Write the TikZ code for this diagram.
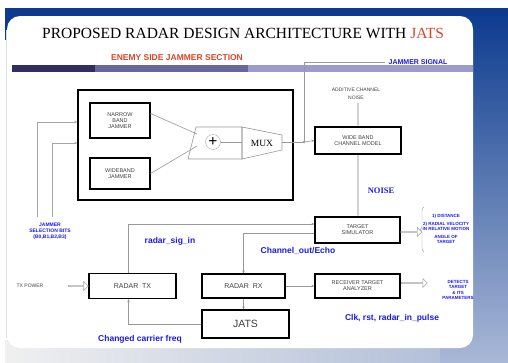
\documentclass[tikz,border=0pt]{standalone}
\usepackage{fontspec}
\setmainfont{Liberation Serif}
\setsansfont{Liberation Sans}
\usetikzlibrary{arrows.meta, positioning, shapes.arrows, decorations.pathreplacing, calc}

\definecolor{slideblue}{HTML}{0B3A8E}
\definecolor{slidelight}{HTML}{A9B8D6}
\definecolor{barA}{HTML}{2E2E62}
\definecolor{barB}{HTML}{6767A0}
\definecolor{barC}{HTML}{9B9BCD}
\definecolor{lblblue}{HTML}{1A1AF0}
\definecolor{lblred}{HTML}{D8462A}

\begin{document}
\begin{tikzpicture}[x=1pt, y=-1pt,
  box/.style={rectangle, draw=black, line width=1.2pt, fill=white, inner sep=1pt,
              align=center, text=black!75, font=\sffamily\fontsize{5.5}{6}\selectfont},
  bluelbl/.style={text=lblblue, font=\sffamily\bfseries\fontsize{8.5}{10}\selectfont},
  tinyblue/.style={text=lblblue, align=center, font=\sffamily\bfseries\fontsize{4.5}{5.5}\selectfont},
  tinytxt/.style={text=black!75, align=center, font=\sffamily\fontsize{5}{6}\selectfont},
  hollow/.style={single arrow, draw=gray!70, fill=white, line width=0.6pt, inner sep=0pt,
                 minimum width=9pt, single arrow head extend=2pt},
  arr/.style={-{Stealth[length=3pt, width=2.5pt]}, draw=gray!80, line width=0.6pt},
  noisearr/.style={-{Stealth[length=3pt, width=3pt]}, draw=gray!35, line width=2pt},
  wire/.style={draw=gray!80, line width=0.6pt}
]
\useasboundingbox (0,0) rectangle (508,362);

% slide background
\fill[white] (0,0) rectangle (508,362);
\shade[left color=black!6, right color=slidelight] (5,340) rectangle (508,362);
\fill[slideblue] (5,8) rectangle (508,40);
\shade[top color=slideblue, bottom color=slidelight] (440,8) rectangle (508,362);
\fill[white, rounded corners=13pt] (7,16) rectangle (473,348);
\fill[slideblue] (5,8) rectangle (508,16);
\draw[black!12, line width=0.8pt] (6,30) -- (6,338);

% title and section bar
\node (title) at (243,33) {\fontsize{15.5}{17}\selectfont PROPOSED RADAR DESIGN ARCHITECTURE WITH \textcolor{lblred}{JATS}};
\node[text=lblred, font=\sffamily\bfseries\fontsize{8.5}{9}\selectfont] (enemy) at (177,58) {ENEMY SIDE JAMMER SECTION};
\fill[barA] (12,65) rectangle (95,72);
\fill[barB] (95,65) rectangle (248,72);
\fill[barC] (248,65) rectangle (473,72);
\node[text=lblblue, font=\sffamily\bfseries\fontsize{7}{8}\selectfont] (jsig) at (418,62) {JAMMER SIGNAL};

% jammer section
\node[box, minimum width=215pt, minimum height=110pt, line width=1.4pt] (jambox) at (185.5,145) {};
\node[box, minimum width=60pt, minimum height=35pt] (nbj) at (120,120.5) {NARROW\\BAND\\JAMMER};
\node[box, minimum width=60pt, minimum height=31pt] (wbj) at (120,173.5) {WIDEBAND\\JAMMER};
\draw[wire] (196,127) -- (242,127) -- (242,159) -- (188,159) -- cycle;
\node[circle, draw=gray!70, minimum size=15pt, inner sep=0pt, font=\fontsize{16}{16}\selectfont\bfseries] (sum) at (213,142) {+};
\node[font=\fontsize{9.5}{10}\selectfont] (mux) at (262,143) {MUX};
\draw[wire] (242,127) -- (282,135) -- (282,150) -- (242,159) -- cycle;
\coordinate (addin1) at (197,134);
\coordinate (addin2) at (197,146);
\draw[wire] (nbj.east) ++(0,-7) -- (addin1);
\draw[wire] (wbj.east) -- (addin2);
\draw[wire] (sum.east) -- (242,142);

% jammer selection bits
\node[tinyblue, font=\sffamily\bfseries\fontsize{5}{6}\selectfont] (jsel) at (50,231) {JAMMER\\SELECTION BITS\\(B0,B1,B2,B3)};
\coordinate (sel1) at (37,217);
\coordinate (sel2) at (52,217);
\draw[arr, gray!70] (sel1) |- (jambox.west |- 0,122);
\draw[arr, gray!70] (sel2) |- (jambox.west |- 0,143);

% channel model
\node[box, minimum width=86pt, minimum height=27pt] (wcm) at (358,140.5) {WIDE BAND\\CHANNEL MODEL};
\node[tinytxt] (acn) at (356,94) {ADDITIVE CHANNEL\\[2pt]NOISE};
\coordinate (jct) at (304,142);
\coordinate (jtop) at (304,62);
\draw[wire] (282,142) -- (jct);
\draw[arr] (jct) -- (wcm.west);
\fill[gray!80] (jct) circle (1.3pt);
\draw[wire] (jct) -- (jtop) -- (jsig.west);
\draw[noisearr] (acn.south -| wcm.north) -- (wcm.north);

% target simulator
\node[box, minimum width=85pt, minimum height=26pt] (tsim) at (357.5,230) {TARGET\\SIMULATOR};
\draw[noisearr] (wcm.south) -- (wcm.south |- tsim.north);
\node[text=lblblue, font=\bfseries\fontsize{8.5}{9}\selectfont] (noise) at (381,191) {NOISE};
\node[hollow, minimum height=21pt] (tsout) at (411,232) {};
\coordinate (brlo) at (424,252);
\coordinate (brhi) at (424,207);
\draw[gray!70, decorate, decoration={brace, amplitude=4pt}] (brlo) -- (brhi);
\node[tinyblue] (tsparam) at (446,229) {1) DISTANCE\\[2pt]2) RADIAL VELOCITY\\IN RELATIVE MOTION\\[2pt]ANGLE OF\\TARGET};

% radar side
\node[box, minimum width=87pt, minimum height=25pt, font=\sffamily\fontsize{7}{8}\selectfont] (rtx) at (132.5,286) {RADAR\ \ TX};
\node[box, minimum width=83pt, minimum height=24pt, font=\sffamily\fontsize{7}{8}\selectfont] (rrx) at (243.5,286) {RADAR\ \ RX};
\node[box, minimum width=85pt, minimum height=24pt] (rta) at (357.5,286) {RECEIVER TARGET\\ANALYZER};
\node[box, minimum width=87pt, minimum height=28pt, font=\sffamily\fontsize{10.5}{11}\selectfont] (jats) at (245.5,324) {JATS};

\node[tinytxt] (txpow) at (30,286) {TX POWER};
\node[hollow, minimum height=20pt] (txin) at (78,286) {};
\node[hollow, minimum height=26pt] (rtaout) at (414,283) {};
\node[tinyblue] (rtaparam) at (458,290) {DETECTS\\TARGET\\\& ITS\\PARAMETERS};

\coordinate (txup) at ($(rtx.north)+(-4,0)$);
\coordinate (txdn) at ($(rtx.south)+(-4,0)$);
\coordinate (sigin) at ($(tsim.west)+(0,-6)$);
\coordinate (echo) at ($(tsim.west)+(0,3)$);
\draw[arr] (txup) |- (sigin);
\draw[arr] (echo) -| (rrx.north);
\draw[arr] (rrx.east) -- (rta.west);
\draw[arr] (rrx.south) -- (rrx.south |- jats.north);
\draw[arr] (jats.west) -| (txdn);

\node[bluelbl] (siglbl) at (170,241) {radar\_sig\_in};
\node[bluelbl] (echolbl) at (298,251) {Channel\_out/Echo};
\node[bluelbl] (freqlbl) at (140,339) {Changed carrier freq};
\node[bluelbl] (clklbl) at (392,318) {Clk, rst, radar\_in\_pulse};
\end{tikzpicture}
\end{document}
